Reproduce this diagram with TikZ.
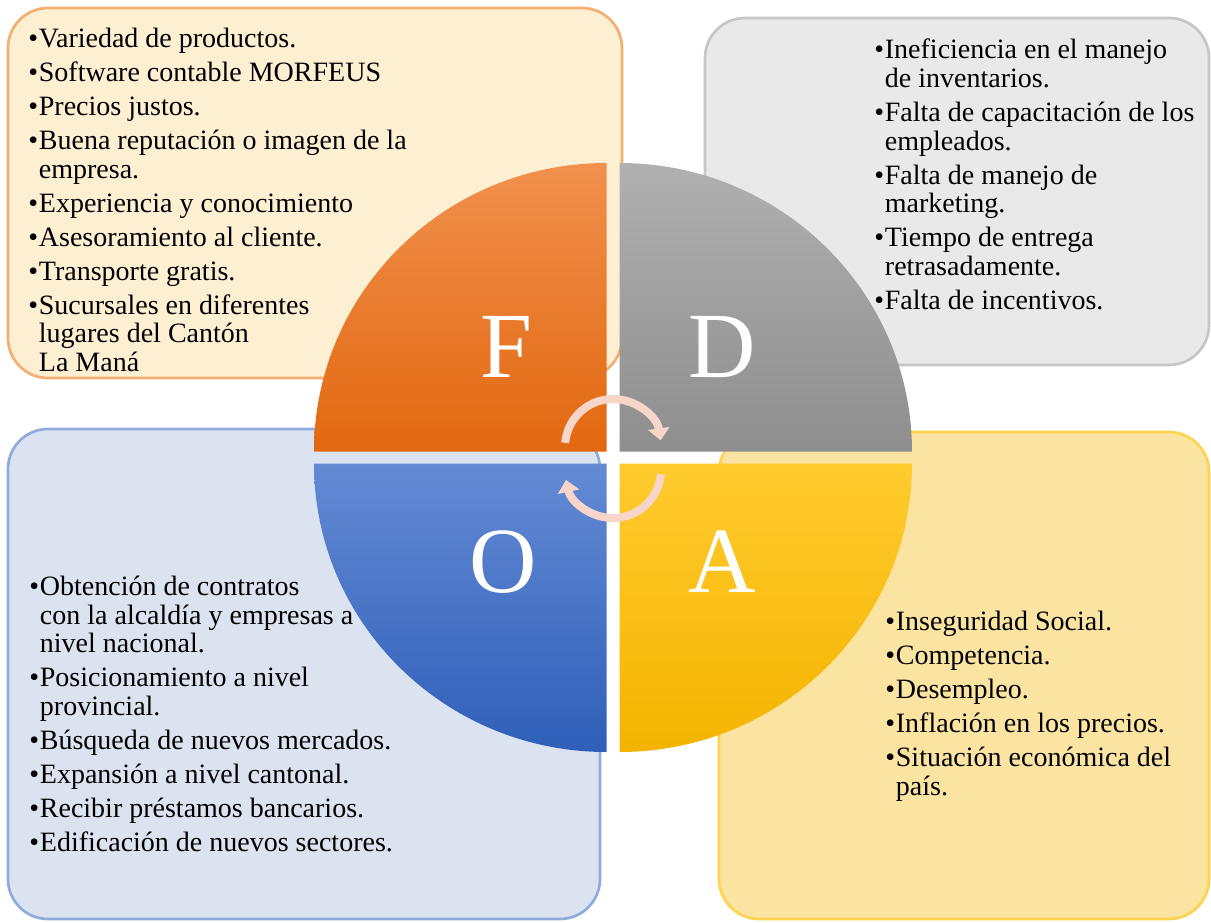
\documentclass[tikz,border=0pt]{standalone}
\usepackage{fontspec}
\setmainfont{Liberation Serif}
\usetikzlibrary{arrows.meta}
\definecolor{boxF}{HTML}{FDEFD2}
\definecolor{lineF}{HTML}{F5AE72}
\definecolor{boxD}{HTML}{E9E9E9}
\definecolor{lineD}{HTML}{C6C6C6}
\definecolor{boxO}{HTML}{DCE3F0}
\definecolor{lineO}{HTML}{8FAADC}
\definecolor{boxA}{HTML}{FBE4A1}
\definecolor{lineA}{HTML}{FFD24F}
\definecolor{cycl}{HTML}{F7D6C9}
\newcommand{\bul}{\makebox[8pt][l]{\textbullet}}
\newcommand{\ind}{\hspace*{8pt}}
\newcommand{\gap}{\\[4.1pt]}
\begin{document}
\begin{tikzpicture}[x=0.75pt,y=-0.75pt,
    box/.style={line width=2pt,rounded corners=30pt},
    quad/.style={draw=white!70!#1,line width=1.2pt},
    list/.style={anchor=north west,inner sep=0pt,align=left,
      font=\fontsize{21}{21.4}\selectfont},
    letter/.style={anchor=base,inner sep=0pt,text=white,
      font=\fontsize{70}{70}\selectfont},
    turn/.style={draw=cycl,line width=6pt,-{Triangle[width=16pt,length=9pt]}}]
  \fill[white] (0,0) rectangle (1211,922);
  \useasboundingbox (0,0) rectangle (1211,922);
  \draw[box,fill=boxF,draw=lineF] (8,8) rectangle (622,378);
  \draw[box,fill=boxD,draw=lineD] (705,18) rectangle (1209,365);
  \draw[box,fill=boxO,draw=lineO] (8,429) rectangle (600,919);
  \draw[box,fill=boxA,draw=lineA] (719,432) rectangle (1209,919);
  \shade[top color={rgb,255:red,241;green,144;blue,78},bottom color={rgb,255:red,226;green,104;blue,15}]
    (606.5,451.5) -- (314,451.5) arc[start angle=180,end angle=270,x radius=292.5,y radius=288.5] -- cycle;
  \shade[top color={rgb,255:red,176;green,176;blue,176},bottom color={rgb,255:red,142;green,142;blue,142}]
    (619.5,451.5) -- (619.5,163) arc[start angle=270,end angle=360,x radius=292.5,y radius=288.5] -- cycle;
  \shade[top color={rgb,255:red,100;green,138;blue,212},bottom color={rgb,255:red,47;green,95;blue,185}]
    (606.5,463.5) -- (314,463.5) arc[start angle=180,end angle=90,x radius=292.5,y radius=288.5] -- cycle;
  \shade[top color={rgb,255:red,255;green,203;blue,46},bottom color={rgb,255:red,244;green,180;blue,0}]
    (619.5,463.5) -- (912,463.5) arc[start angle=0,end angle=90,x radius=292.5,y radius=288.5] -- cycle;
  \node[letter] (F) at (506,377) {F};
  \node[letter] (D) at (722,377) {D};
  \node[letter] (O) at (503,592) {O};
  \node[letter] (A) at (722,592) {A};
  \draw[turn] ([shift={(185:48)}]613,447) arc[start angle=185,end angle=352,radius=48];
  \draw[turn] ([shift={(5:48)}]613,470) arc[start angle=5,end angle=168,radius=48];
  \node[list] (F_list) at (28,28) {\bul Variedad de productos.\gap
    \bul Software contable MORFEUS\gap
    \bul Precios justos.\gap
    \bul Buena reputación o imagen de la\\
    \ind empresa.\gap
    \bul Experiencia y conocimiento\gap
    \bul Asesoramiento al cliente.\gap
    \bul Transporte gratis.\gap
    \bul Sucursales en diferentes\\
    \ind lugares del Cantón\\
    \ind La Maná};
  \node[list] (D_list) at (874,39) {\bul Ineficiencia en el manejo\\
    \ind de inventarios.\gap
    \bul Falta de capacitación de los\\
    \ind empleados.\gap
    \bul Falta de manejo de\\
    \ind marketing.\gap
    \bul Tiempo de entrega\\
    \ind retrasadamente.\gap
    \bul Falta de incentivos.};
  \node[list] (O_list) at (29,576) {\bul Obtención de contratos\\
    \ind con la alcaldía y empresas a\\
    \ind nivel nacional.\gap
    \bul Posicionamiento a nivel\\
    \ind provincial.\gap
    \bul Búsqueda de nuevos mercados.\gap
    \bul Expansión a nivel cantonal.\gap
    \bul Recibir préstamos bancarios.\gap
    \bul Edificación de nuevos sectores.};
  \node[list] (A_list) at (885,611) {\bul Inseguridad Social.\gap
    \bul Competencia.\gap
    \bul Desempleo.\gap
    \bul Inflación en los precios.\gap
    \bul Situación económica del\\
    \ind país.};
\end{tikzpicture}
\end{document}
